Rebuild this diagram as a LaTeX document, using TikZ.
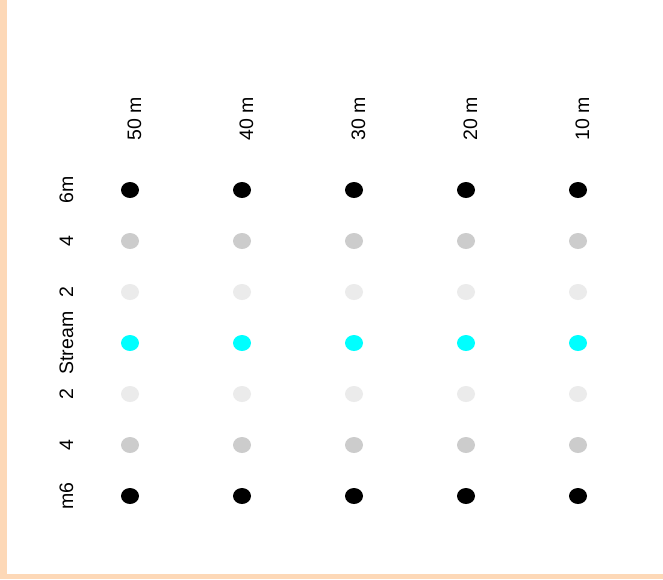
\documentclass[tikz,border=0pt]{standalone}
\usepackage{fontspec}
\setmainfont{Liberation Sans}
\usetikzlibrary{shapes.geometric}
\definecolor{peach}{RGB}{253,216,183}
\definecolor{bandmid}{RGB}{204,204,204}
\definecolor{bandlight}{RGB}{235,235,235}
\definecolor{streamcyan}{RGB}{0,255,255}
\tikzset{
    site/.style={
        ellipse,
        minimum width=18pt,
        minimum height=16pt,
        inner sep=0pt
    },
    dist label/.style={
        rotate=90,
        anchor=base,
        inner sep=0pt,
        font=\fontsize{19.5}{22}\selectfont
    }
}

\begin{document}
\begin{tikzpicture}[x=1pt,y=-1pt]
            \useasboundingbox (0,0) rectangle (663,579);
            \fill[peach] (0,0) rectangle (663,579);
            \fill[white] (7,0) rectangle (663,574);
            % distance along the stream
            \foreach \lab [count=\c] in {50 m,40 m,30 m,20 m,10 m}
              \node[dist label] (top-\c) at (18+112*\c+11,119) {\lab};
            % distance from the stream, one row of sites each
            \foreach \lab/\col [count=\r] in {6m/black,4/bandmid,2/bandlight,Stream/streamcyan,2/bandlight,4/bandmid,m6/black}{
              \node[dist label] (side-\r) at (73,139+51*\r) {\lab};
              \foreach \c in {1,...,5}
                \node[site, fill=\col] (site-\r-\c) at (18+112*\c,139+51*\r) {};
            }
        \end{tikzpicture}
\end{document}
